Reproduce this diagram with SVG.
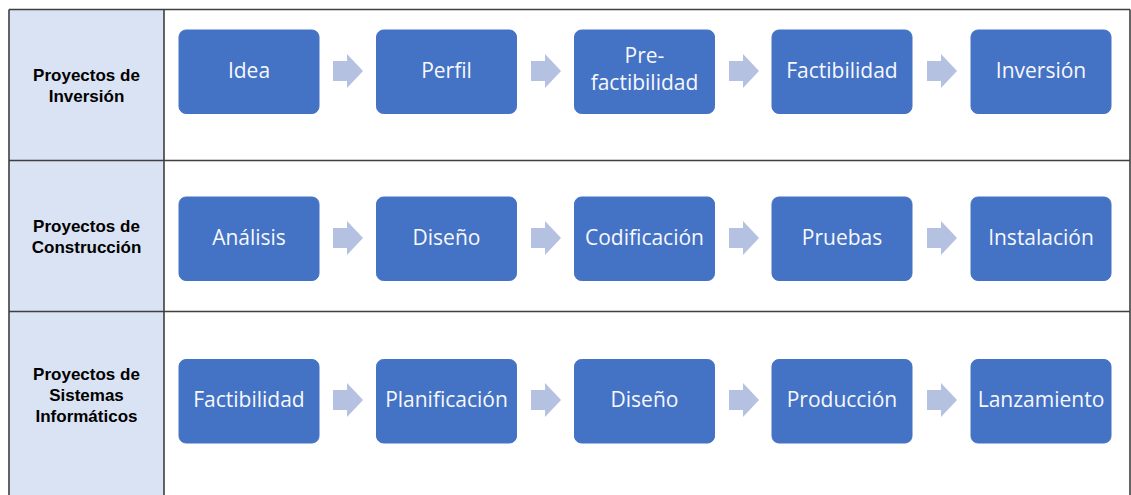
<svg xmlns="http://www.w3.org/2000/svg" width="1131" height="495" viewBox="0 0 1131 495">
<style>
.grid{stroke:#3f3f3f;stroke-width:1.6;fill:none}
.box{fill:#4472C4;stroke:#4472C4;stroke-width:1}
.bt{fill:#f6f8fc;font-family:"Open Sans","Noto Sans",sans-serif;font-size:21px;text-anchor:middle}
.lt{fill:#000;font-family:"Liberation Sans",Arial,sans-serif;font-size:17px;font-weight:bold;text-anchor:middle}
.arr{fill:#B4C1E1}
</style>
<defs>
<path id="ar" d="M0,-10 H14 V-17 L30,0 L14,17 V10 H0 Z"/>
</defs>
<rect x="0" y="0" width="1131" height="495" fill="#fff"/>
<rect x="9" y="9.5" width="155" height="490" fill="#DAE3F3"/>
<g id="grid">
<path class="grid" d="M9,9.5 H1130 M9,160.5 H1130 M9,311.5 H1130 M9,9.5 V495 M164,9.5 V495 M1130,9.5 V495"/>
</g>
<g id="label-1"><text class="lt" x="86.5" y="81">Proyectos de</text><text class="lt" x="86.5" y="102">Inversión</text></g>
<g id="label-2"><text class="lt" x="86.5" y="232">Proyectos de</text><text class="lt" x="86.5" y="253">Construcción</text></g>
<g id="label-3"><text class="lt" x="86.5" y="380">Proyectos de</text><text class="lt" x="86.5" y="401">Sistemas</text><text class="lt" x="86.5" y="422">Informáticos</text></g>

<g id="r1n1"><rect class="box" x="179" y="30" width="140" height="83.5" rx="7"/><text class="bt" x="249" y="78">Idea</text></g>
<g id="r1n2"><rect class="box" x="376.5" y="30" width="140" height="83.5" rx="7"/><text class="bt" x="446.5" y="78">Perfil</text></g>
<g id="r1n3"><rect class="box" x="574.5" y="30" width="140" height="83.5" rx="7"/><text class="bt" x="644.5" y="63">Pre-</text><text class="bt" x="644.5" y="90">factibilidad</text></g>
<g id="r1n4"><rect class="box" x="772" y="30" width="140" height="83.5" rx="7"/><text class="bt" x="842" y="78">Factibilidad</text></g>
<g id="r1n5"><rect class="box" x="971" y="30" width="140" height="83.5" rx="7"/><text class="bt" x="1041" y="78">Inversión</text></g>

<g id="r2n1"><rect class="box" x="179" y="197" width="140" height="83.5" rx="7"/><text class="bt" x="249" y="245">Análisis</text></g>
<g id="r2n2"><rect class="box" x="376.5" y="197" width="140" height="83.5" rx="7"/><text class="bt" x="446.5" y="245">Diseño</text></g>
<g id="r2n3"><rect class="box" x="574.5" y="197" width="140" height="83.5" rx="7"/><text class="bt" x="644.5" y="245">Codificación</text></g>
<g id="r2n4"><rect class="box" x="772" y="197" width="140" height="83.5" rx="7"/><text class="bt" x="842" y="245">Pruebas</text></g>
<g id="r2n5"><rect class="box" x="971" y="197" width="140" height="83.5" rx="7"/><text class="bt" x="1041" y="245">Instalación</text></g>

<g id="r3n1"><rect class="box" x="179" y="359.5" width="140" height="83.5" rx="7"/><text class="bt" x="249" y="407">Factibilidad</text></g>
<g id="r3n2"><rect class="box" x="376.5" y="359.5" width="140" height="83.5" rx="7"/><text class="bt" x="446.5" y="407">Planificación</text></g>
<g id="r3n3"><rect class="box" x="574.5" y="359.5" width="140" height="83.5" rx="7"/><text class="bt" x="644.5" y="407">Diseño</text></g>
<g id="r3n4"><rect class="box" x="772" y="359.5" width="140" height="83.5" rx="7"/><text class="bt" x="842" y="407">Producción</text></g>
<g id="r3n5"><rect class="box" x="971" y="359.5" width="140" height="83.5" rx="7"/><text class="bt" x="1041" y="407">Lanzamiento</text></g>

<g id="connectors" class="arr">
<use href="#ar" x="333" y="71"/><use href="#ar" x="531" y="71"/><use href="#ar" x="729" y="71"/><use href="#ar" x="927" y="71"/>
<use href="#ar" x="333" y="238"/><use href="#ar" x="531" y="238"/><use href="#ar" x="729" y="238"/><use href="#ar" x="927" y="238"/>
<use href="#ar" x="333" y="400"/><use href="#ar" x="531" y="400"/><use href="#ar" x="729" y="400"/><use href="#ar" x="927" y="400"/>
</g>
</svg>
